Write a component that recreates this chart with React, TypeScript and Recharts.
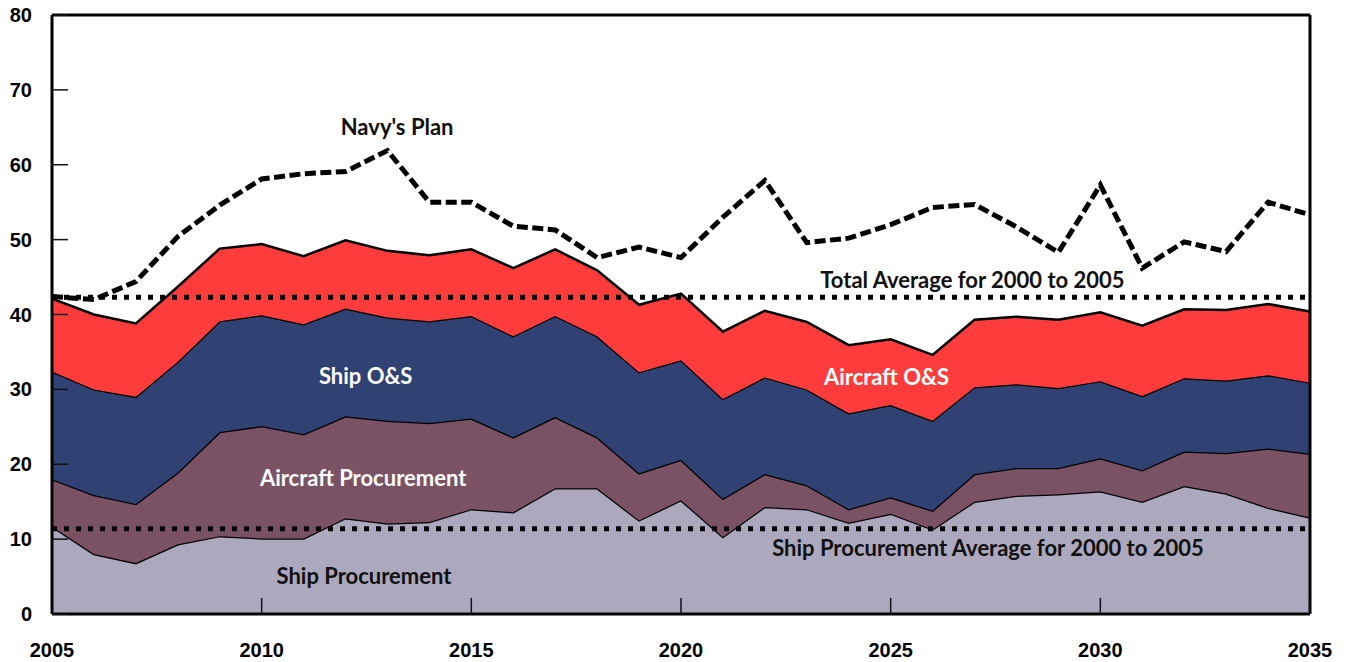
import React from "react";
import {
  ComposedChart,
  Area,
  Line,
  XAxis,
  YAxis,
  ReferenceLine,
  ReferenceDot,
} from "recharts";

const years = [
  2005, 2006, 2007, 2008, 2009, 2010, 2011, 2012, 2013, 2014, 2015, 2016, 2017, 2018, 2019, 2020,
  2021, 2022, 2023, 2024, 2025, 2026, 2027, 2028, 2029, 2030, 2031, 2032, 2033, 2034, 2035,
];
const shipProcurement = [
  11.7, 8.0, 6.8, 9.3, 10.4, 10.1, 10.1, 12.8, 12.1, 12.3, 14.0, 13.6, 16.8, 16.8, 12.5, 15.2,
  10.3, 14.3, 14.0, 12.2, 13.4, 11.3, 15.0, 15.8, 16.0, 16.4, 15.0, 17.1, 16.1, 14.2, 12.9,
];
const aircraftProcurement = [
  6.3, 7.9, 7.9, 9.6, 13.9, 15.0, 13.9, 13.6, 13.7, 13.2, 12.1, 10.0, 9.5, 6.8, 6.3, 5.4,
  5.1, 4.4, 3.2, 1.8, 2.2, 2.5, 3.7, 3.7, 3.5, 4.4, 4.2, 4.6, 5.4, 7.9, 8.5,
];
const shipOS = [
  14.4, 14.1, 14.3, 14.8, 14.8, 14.8, 14.7, 14.4, 13.8, 13.6, 13.7, 13.5, 13.5, 13.5, 13.5, 13.3,
  13.3, 12.9, 12.8, 12.8, 12.3, 12.0, 11.6, 11.2, 10.7, 10.3, 9.9, 9.8, 9.7, 9.8, 9.5,
];
const aircraftOS = [
  9.7, 10.0, 9.8, 10.0, 9.7, 9.5, 9.1, 9.1, 8.9, 8.8, 8.9, 9.1, 8.9, 8.8, 9.0, 8.9,
  9.0, 8.9, 9.0, 9.1, 8.8, 8.8, 9.0, 9.0, 9.1, 9.2, 9.4, 9.2, 9.4, 9.5, 9.5,
];
const navyPlan = [
  42.4, 42.0, 44.4, 50.4, 54.6, 58.1, 58.8, 59.1, 61.9, 55.0, 55.0, 51.8, 51.3, 47.6, 49.0, 47.6,
  53.0, 57.9, 49.6, 50.2, 52.0, 54.3, 54.7, 51.7, 48.3, 57.3, 46.2, 49.7, 48.4, 55.0, 53.3,
];
const totalAverage = 42.3;
const shipProcurementAverage = 11.4;

const xTicks = [2005, 2010, 2015, 2020, 2025, 2030, 2035];
const yTicks = [0, 10, 20, 30, 40, 50, 60, 70, 80];

const data = years.map((year, i) => ({
  year,
  shipProcurement: shipProcurement[i],
  aircraftProcurement: aircraftProcurement[i],
  shipOS: shipOS[i],
  aircraftOS: aircraftOS[i],
  navyPlan: navyPlan[i],
}));

const annotations = [
  { text: "Navy's Plan", x: 2013.23, y: 65.0, color: "#111111" },
  { text: "Total Average for 2000 to 2005", x: 2026.95, y: 44.6, color: "#111111" },
  { text: "Ship O&S", x: 2012.48, y: 31.8, color: "#ffffff" },
  { text: "Aircraft O&S", x: 2024.9, y: 31.6, color: "#ffffff" },
  { text: "Aircraft Procurement", x: 2012.42, y: 18.2, color: "#ffffff" },
  { text: "Ship Procurement Average for 2000 to 2005", x: 2027.32, y: 8.74, color: "#111111" },
  { text: "Ship Procurement", x: 2012.44, y: 5.07, color: "#111111" },
];

const labelFont = "Lato, 'Noto Sans', sans-serif";
const tickFont = "'Liberation Sans', Arial, sans-serif";

const makeLabel = (text: string, color: string) => (props: any) => {
  const vb = props.viewBox || {};
  const cx = (vb.x || 0) + (vb.width || 0) / 2;
  const cy = (vb.y || 0) + (vb.height || 0) / 2;
  return (
    <text
      x={cx}
      y={cy}
      dy="0.36em"
      textAnchor="middle"
      fill={color}
      fontFamily={labelFont}
      fontWeight={700}
      fontSize={22}
    >
      {text}
    </text>
  );
};

export default function App() {
  return (
    <div style={{ position: "absolute", left: 8, top: 0, width: 1330, height: 662 }}>
      <ComposedChart
        width={1330}
        height={662}
        data={data}
        margin={{ top: 15, right: 28, bottom: 2, left: 0 }}
        style={{ overflow: "visible" }}
      >
        <XAxis
          dataKey="year"
          type="number"
          domain={[2005, 2035]}
          ticks={xTicks}
          interval={0}
          height={46}
          tickSize={-16}
          tickMargin={45}
          axisLine={{ stroke: "#000", strokeWidth: 3 }}
          tickLine={{ stroke: "#111", strokeWidth: 1.5 }}
          tick={{ fill: "#000", fontSize: 20, fontWeight: 700, fontFamily: tickFont }}
          allowDataOverflow
        />
        <YAxis
          type="number"
          domain={[0, 80]}
          ticks={yTicks}
          interval={0}
          width={44}
          tickSize={-16}
          tickMargin={36}
          axisLine={{ stroke: "#000", strokeWidth: 3 }}
          tickLine={{ stroke: "#111", strokeWidth: 1.5 }}
          tick={{ fill: "#000", fontSize: 20, fontWeight: 700, fontFamily: tickFont }}
          allowDataOverflow
        />
        <Area
          type="linear"
          dataKey="shipProcurement"
          stackId="a"
          fill="#aca9bf"
          fillOpacity={1}
          stroke="#000"
          strokeWidth={2.5}
          dot={false}
          activeDot={false}
          isAnimationActive={false}
        />
        <Area
          type="linear"
          dataKey="aircraftProcurement"
          stackId="a"
          fill="#7b5264"
          fillOpacity={1}
          stroke="#000"
          strokeWidth={2.5}
          dot={false}
          activeDot={false}
          isAnimationActive={false}
        />
        <Area
          type="linear"
          dataKey="shipOS"
          stackId="a"
          fill="#304174"
          fillOpacity={1}
          stroke="#000"
          strokeWidth={2.5}
          dot={false}
          activeDot={false}
          isAnimationActive={false}
        />
        <Area
          type="linear"
          dataKey="aircraftOS"
          stackId="a"
          fill="#fd3c3b"
          fillOpacity={1}
          stroke="#000"
          strokeWidth={2.5}
          dot={false}
          activeDot={false}
          isAnimationActive={false}
        />
        <ReferenceLine
          y={totalAverage}
          stroke="#000"
          strokeWidth={5}
          strokeDasharray="5 7"
        />
        <ReferenceLine
          y={shipProcurementAverage}
          stroke="#000"
          strokeWidth={5}
          strokeDasharray="5 7"
        />
        <Line
          type="linear"
          dataKey="navyPlan"
          stroke="#000"
          strokeWidth={5}
          strokeDasharray="11 4.5"
          dot={false}
          activeDot={false}
          isAnimationActive={false}
        />
        <ReferenceLine y={80} stroke="#000" strokeWidth={3} />
        <ReferenceLine x={2035} stroke="#000" strokeWidth={3} />
        {annotations.map((a) => (
          <ReferenceDot
            key={a.text}
            x={a.x}
            y={a.y}
            r={0}
            fill="none"
            stroke="none"
            label={makeLabel(a.text, a.color)}
          />
        ))}
      </ComposedChart>
    </div>
  );
}
